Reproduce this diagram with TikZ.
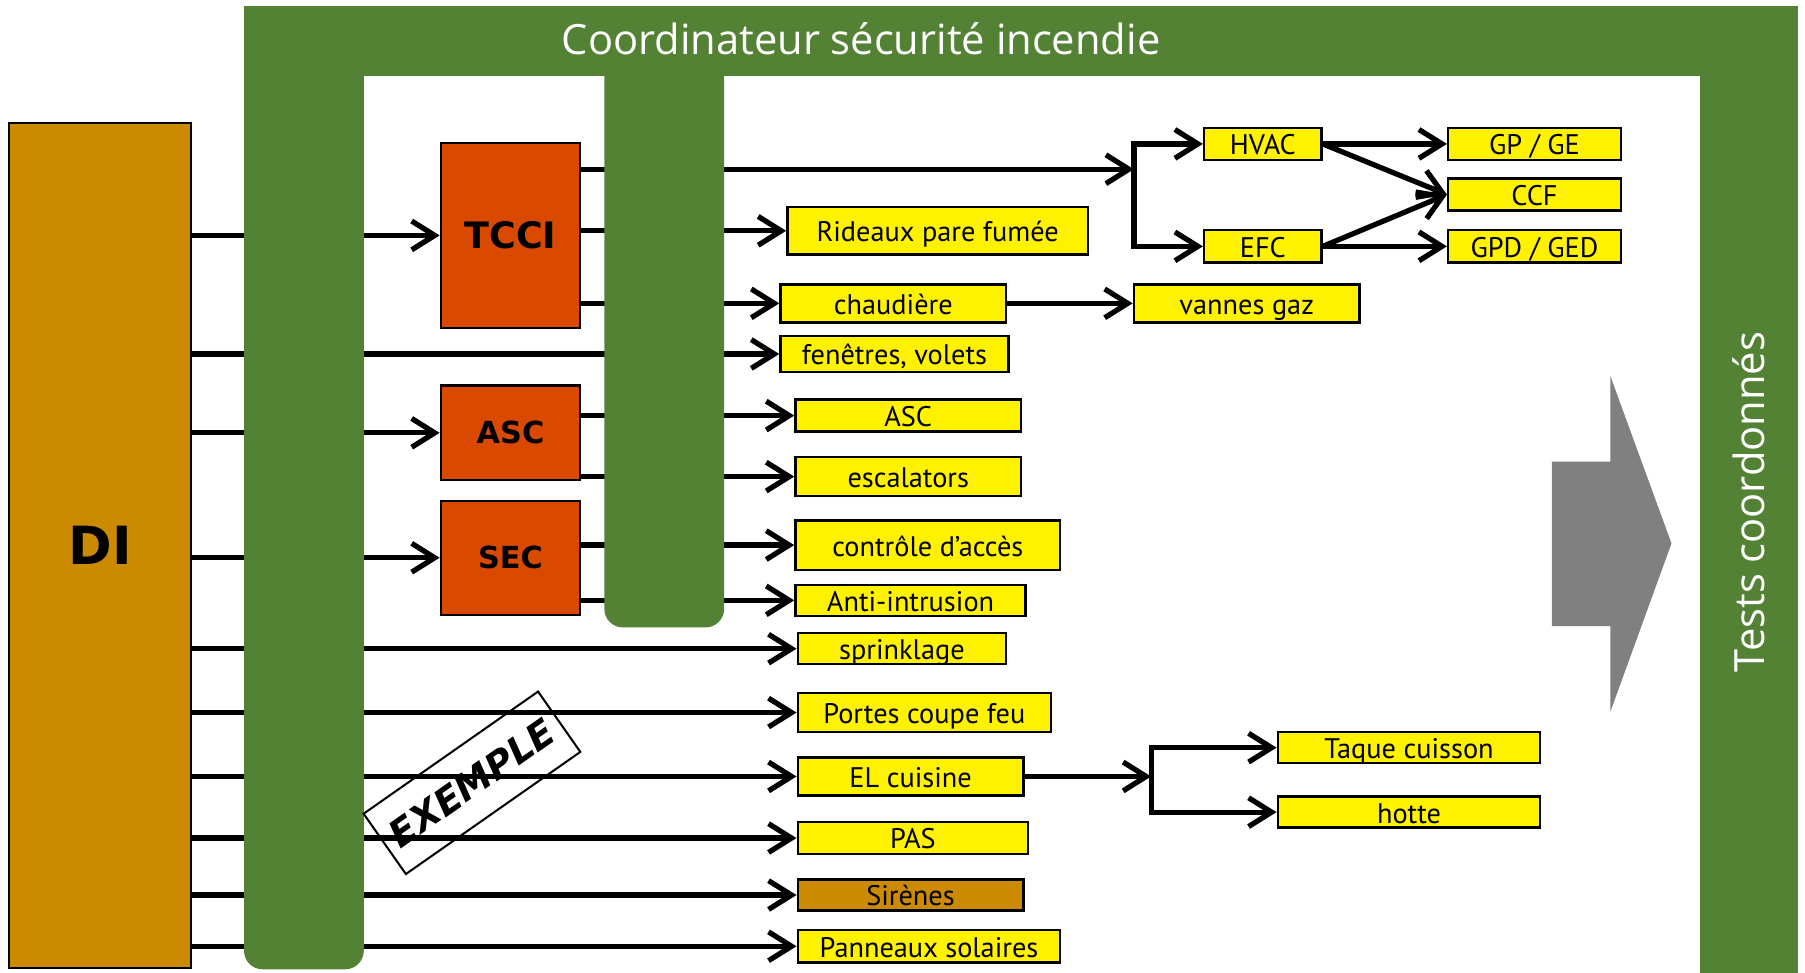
\documentclass[tikz,border=0pt]{standalone}
\usepackage{fontspec}
\setmainfont{PT Sans}
\newfontfamily\titelfont{Open Sans}
\newfontfamily\fettfont{DejaVu Sans}
\usetikzlibrary{arrows.meta}

\definecolor{gruen}{RGB}{84,130,53}
\definecolor{ocker}{RGB}{204,138,0}
\definecolor{rotton}{RGB}{217,74,0}
\definecolor{grau}{RGB}{128,128,128}

\tikzset{
  gelb/.style={draw, line width=0.6pt, fill=yellow, inner sep=0pt, text height=5.4pt, text depth=0pt, font=\fontsize{7}{8}\selectfont},
  modul/.style={draw, line width=0.6pt, fill=rotton, inner sep=0pt, minimum width=1.21cm, font=\fettfont\bfseries\fontsize{7.5}{9}\selectfont},
  titel/.style={text=white, font=\titelfont\fontsize{10.3}{12}\selectfont},
  pf/.style={->, line width=1.3pt},
}

\begin{document}
\begin{tikzpicture}[>={Straight Barb[length=2mm,width=2.5mm]}]
    \useasboundingbox (0,0) rectangle (15.68,-8.45);
    % DI und Module:
    \node[draw, line width=0.6pt, fill=ocker, minimum width=1.58cm, minimum height=7.34cm, font=\fettfont\bfseries\fontsize{13}{15}\selectfont] (di) at (0.87,-4.74) {DI};
    \node[modul, minimum height=1.61cm, font=\fettfont\bfseries\fontsize{9}{11}\selectfont] (tcci) at (4.435,-2.045) {TCCI};
    \node[modul, minimum height=0.82cm] (asc) at (4.435,-3.76) {ASC};
    \node[modul, minimum height=0.99cm] (sec) at (4.435,-4.845) {SEC};
    % gelbe Kaesten:
    \node[gelb, minimum width=2.61cm, minimum height=0.41cm] (rideaux) at (8.145,-2.005) {Rideaux pare fumée};
    \node[gelb, minimum width=1.96cm, minimum height=0.33cm] (chaud) at (7.76,-2.635) {chaudière};
    \node[gelb, minimum width=1.98cm, minimum height=0.31cm] (fenetres) at (7.77,-3.075) {fenêtres, volets};
    \node[gelb, minimum width=1.96cm, minimum height=0.28cm] (ascy) at (7.89,-3.61) {ASC};
    \node[gelb, minimum width=1.96cm, minimum height=0.34cm] (escal) at (7.89,-4.14) {escalators};
    \node[gelb, minimum width=2.30cm, minimum height=0.43cm] (acces) at (8.06,-4.735) {contrôle d’accès};
    \node[gelb, minimum width=2.00cm, minimum height=0.27cm] (intrus) at (7.91,-5.215) {Anti-intrusion};
    \node[gelb, minimum width=1.81cm, minimum height=0.27cm] (sprink) at (7.835,-5.635) {sprinklage};
    \node[gelb, minimum width=2.20cm, minimum height=0.34cm] (portes) at (8.03,-6.19) {Portes coupe feu};
    \node[gelb, minimum width=1.96cm, minimum height=0.33cm] (elc) at (7.91,-6.745) {EL cuisine};
    \node[gelb, minimum width=2.00cm, minimum height=0.28cm] (pas) at (7.93,-7.28) {PAS};
    \node[gelb, fill=ocker, minimum width=1.96cm, minimum height=0.27cm] (sirenes) at (7.91,-7.775) {Sirènes};
    \node[gelb, minimum width=2.28cm, minimum height=0.28cm] (panneaux) at (8.07,-8.22) {Panneaux solaires};
    \node[gelb, minimum width=1.96cm, minimum height=0.33cm] (vannes) at (10.83,-2.635) {vannes gaz};
    \node[gelb, minimum width=1.02cm, minimum height=0.28cm] (hvac) at (10.97,-1.25) {HVAC};
    \node[gelb, minimum width=1.02cm, minimum height=0.28cm] (efc) at (10.97,-2.14) {EFC};
    \node[gelb, minimum width=1.50cm, minimum height=0.28cm] (gpge) at (13.33,-1.25) {GP / GE};
    \node[gelb, minimum width=1.50cm, minimum height=0.28cm] (ccf) at (13.33,-1.69) {CCF};
    \node[gelb, minimum width=1.50cm, minimum height=0.28cm] (gpdged) at (13.33,-2.14) {GPD / GED};
    \node[gelb, minimum width=2.28cm, minimum height=0.27cm] (taque) at (12.24,-6.495) {Taque cuisson};
    \node[gelb, minimum width=2.28cm, minimum height=0.27cm] (hotte) at (12.24,-7.055) {hotte};
    \coordinate (split) at (9.85,-1.47);
    \coordinate (splitel) at (10.00,-6.745);

    % Pfeile von DI:
    \foreach \ziel in {tcci, asc, sec, fenetres, sprink, portes, elc, pas, sirenes, panneaux}
        \draw[pf] (di.east |- \ziel) -- (\ziel);
    % Pfeile von den Modulen:
    \draw[pf] (tcci.east |- split) -- (split);
    \foreach \ziel in {rideaux, chaud}
        \draw[pf] (tcci.east |- \ziel) -- (\ziel);
    \foreach \ziel in {ascy, escal}
        \draw[pf] (asc.east |- \ziel) -- (\ziel);
    \foreach \ziel in {acces, intrus}
        \draw[pf] (sec.east |- \ziel) -- (\ziel);
    % Verzweigungen:
    \draw[pf] (split |- efc) |- (hvac);
    \draw[pf] (split |- hvac) |- (efc);
    \draw[pf] (hvac) -- (gpge);
    \draw[pf] (hvac.east) -- (ccf.west);
    \draw[pf] (efc) -- (gpdged);
    \draw[pf] (efc.east) -- (ccf.west);
    \draw[pf] (chaud) -- (vannes);
    \draw[pf] (elc) -- (splitel);
    \draw[pf] (splitel |- hotte) |- (taque);
    \draw[pf] (splitel |- taque) |- (hotte);

    % gruener Rahmen:
    \fill[gruen] (2.12,-0.05) rectangle (15.62,-0.66);
    \fill[gruen] (2.12,-0.3) [rounded corners=1.6mm] -- (2.12,-8.42) -- (3.16,-8.42) [sharp corners] -- (3.16,-0.3) -- cycle;
    \fill[gruen] (14.77,-0.3) rectangle (15.62,-8.45);
    \fill[gruen] (5.25,-0.5) [rounded corners=1.6mm] -- (5.25,-5.45) -- (6.29,-5.45) [sharp corners] -- (6.29,-0.5) -- cycle;
    \node[titel] (coord) at (7.48,-0.34) {Coordinateur sécurité incendie};
    \node[titel, rotate=90] (tests) at (15.19,-4.36) {Tests coordonnés};

    % grauer Pfeil:
    \fill[grau] (13.48,-4.01) -- (13.99,-4.01) -- (13.99,-3.27) -- (14.52,-4.72) -- (13.99,-6.18) -- (13.99,-5.44) -- (13.48,-5.44) -- cycle;

    \node[draw, line width=0.5pt, rotate=35, inner sep=1pt, minimum width=1.85cm, minimum height=0.64cm, font=\fettfont\bfseries\itshape\fontsize{9.2}{11}\selectfont] (exemple) at (4.10,-6.80) {EXEMPLE};
\end{tikzpicture}
\end{document}
